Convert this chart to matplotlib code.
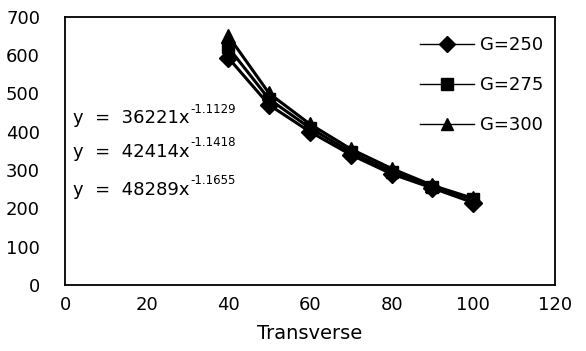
import matplotlib
matplotlib.use("Agg")
import matplotlib.pyplot as plt

# data
transverse = [40, 50, 60, 70, 80, 90, 100]
g250 = [593, 470, 400, 340, 290, 253, 215]
g275 = [620, 485, 410, 347, 296, 256, 224]
g300 = [650, 500, 420, 355, 304, 260, 226]
labels = ['G=250', 'G=275', 'G=300']
eq_base = ['y  =  36221x', 'y  =  42414x', 'y  =  48289x']
eq_exp = ['-1.1129', '-1.1418', '-1.1655']

plt.rcParams.update({
    "font.family": "DejaVu Sans",
    "font.size": 13,
})

fig = plt.figure(figsize=(5.86, 3.51), dpi=100)
ax = fig.add_axes([0.111, 0.188, 0.836, 0.764])

markers = ['D', 's', '^']
sizes = [9, 9, 10]
for ys, lab, m, ms in zip([g250, g275, g300], labels, markers, sizes):
    ax.plot(transverse, ys, color='black', marker=m, markersize=ms, linewidth=2.2, label=lab)

ax.set_xlim(0, 120)
ax.set_ylim(0, 700)
ax.set_xticks(range(0, 121, 20))
ax.set_yticks(range(0, 701, 100))
ax.tick_params(length=0, labelsize=13)
ax.tick_params(axis='x', pad=8)
ax.tick_params(axis='y', pad=18)
for s in ax.spines.values():
    s.set_linewidth(1.3)
ax.set_xlabel('Transverse', fontsize=14, labelpad=7)

# fitted power-law equations, exponent drawn as a smaller raised text
for base, ex, yv in zip(eq_base, eq_exp, [422, 334, 235]):
    t = ax.text(2, yv, base, fontsize=13, va='baseline', ha='left')
    ax.annotate(ex, xy=(1, 0), xycoords=t, xytext=(0.5, 10.5), textcoords='offset points',
                fontsize=8.5, va='baseline', ha='left')

leg = ax.legend(loc='upper right', bbox_to_anchor=(0.9755, 0.929), frameon=False,
                borderpad=0, borderaxespad=0, fontsize=13, labelspacing=1.22,
                handlelength=3.0, handletextpad=0.3)
for h in leg.legend_handles:
    h.set_linewidth(1.0)
    h.set_markersize(8)

fig.savefig('out.png', dpi=100)
